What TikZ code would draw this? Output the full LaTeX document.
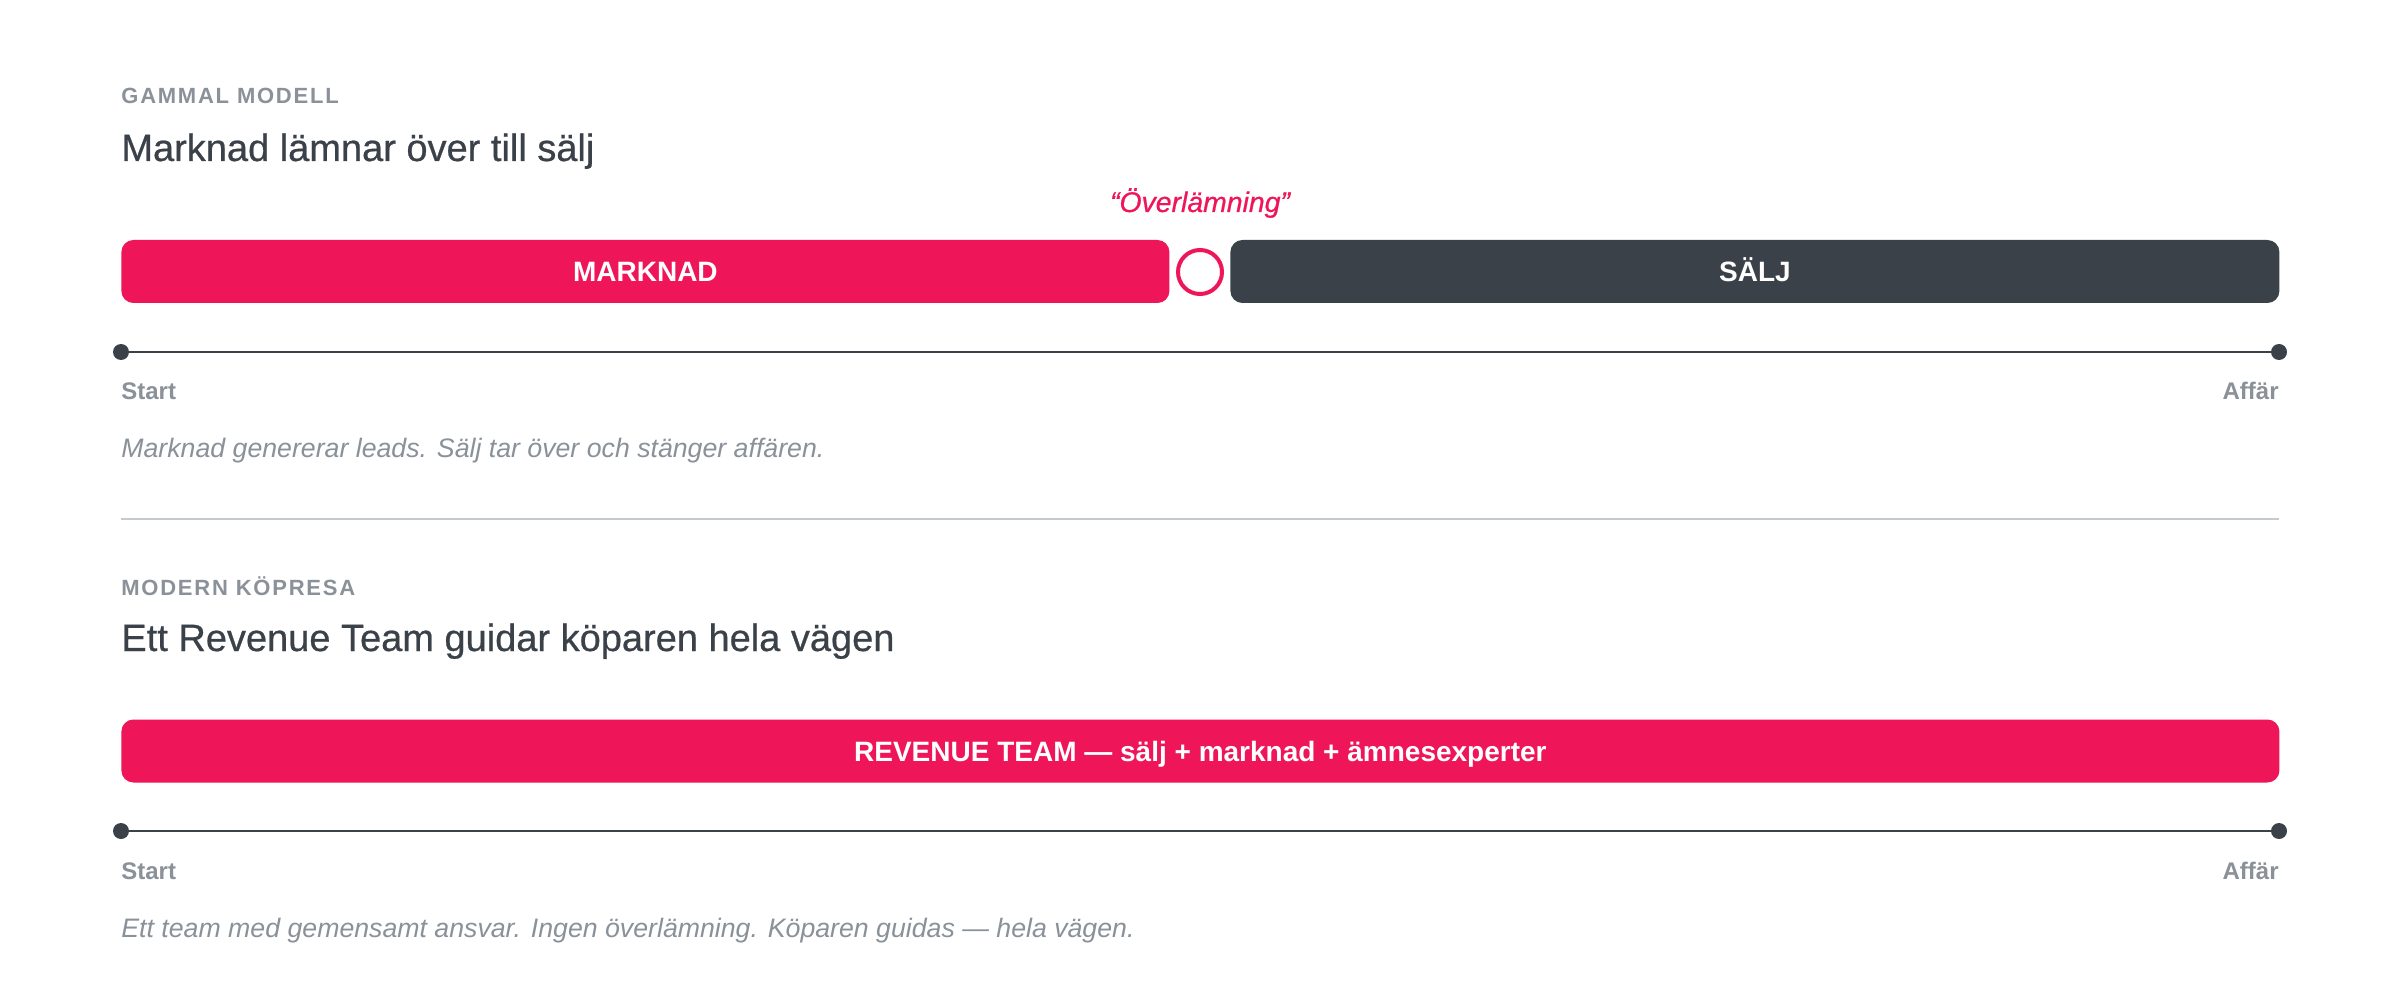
\documentclass[tikz,border=0pt]{standalone}
\usepackage{fontspec}
\setmainfont{Liberation Sans}
\newfontfamily\kickerfont{Liberation Sans}[LetterSpace=8]
\newfontfamily\headfont{Liberation Sans}[FakeBold=0.6]
\usetikzlibrary{positioning}
\definecolor{brandpink}{HTML}{EE1558}
\definecolor{inkdark}{HTML}{3A4149}
\definecolor{mutedgray}{HTML}{8A9199}
\definecolor{rulegray}{HTML}{C5CACF}

\begin{document}
\begin{tikzpicture}[x=0.5pt, y=-0.5pt,
	barstyle/.style={rectangle, rounded corners=6pt, fill=#1, text=white,
		font=\bfseries\fontsize{14}{16}\selectfont, minimum height=31.5pt,
		inner sep=0pt, text height=10pt, text depth=0pt, anchor=west},
	kickerstyle/.style={inner sep=0pt, anchor=base west, text=mutedgray,
		font=\kickerfont\bfseries\fontsize{11}{13}\selectfont},
	titlestyle/.style={inner sep=0pt, anchor=base west, text=inkdark,
		font=\headfont\fontsize{19}{22}\selectfont},
	notestyle/.style={inner sep=0pt, anchor=base west, text=mutedgray,
		font=\itshape\fontsize{13.35}{15}\selectfont},
	endstyle/.style={inner sep=0pt, text=mutedgray,
		font=\bfseries\fontsize{12}{14}\selectfont},
	dotstyle/.style={circle, fill=inkdark, minimum size=8pt, inner sep=0pt},
	timeline/.style={draw=inkdark, line width=1pt}]
	\def \left {121}
	\def \right {2279}

	\useasboundingbox[fill=white] (0,0) rectangle (2400,1000);

	% gammal modell
	\node (kicker1) [kickerstyle] at (\left,104) {GAMMAL MODELL};
	\node (title1) [titlestyle] at (\left,161) {Marknad lämnar över till sälj};
	\node (marknad) [barstyle=brandpink, minimum width=524pt] at (\left,271.5) {MARKNAD};
	\node (salj) [barstyle=inkdark, minimum width=524.5pt] at (1230,271.5) {SÄLJ};
	\node (handover) [circle, draw=brandpink, fill=white, line width=2pt,
		minimum size=22pt, inner sep=0pt] at (1200,272) {};
	\node (handoverlabel) [inner sep=0pt, anchor=base, text=brandpink,
		font=\headfont\itshape\fontsize{14.2}{16}\selectfont] at (1200,212) {“Överlämning”};
	\node (note1) [notestyle] at (\left,458) {Marknad genererar leads. Sälj tar över och stänger affären.};

	\coordinate (sepleft) at (\left,519);
	\coordinate (sepright) at (\right,519);
	\draw[rulegray, line width=0.8pt] (sepleft) -- (sepright);

	% modern köpresa
	\node (kicker2) [kickerstyle] at (\left,595) {MODERN KÖPRESA};
	\node (title2) [titlestyle] at (\left,651) {Ett Revenue Team guidar köparen hela vägen};
	\node (revenue) [barstyle=brandpink, minimum width=1079pt] at (\left,751) {REVENUE TEAM — sälj + marknad + ämnesexperter};
	\node (note2) [notestyle] at (\left,937) {Ett team med gemensamt ansvar. Ingen överlämning. Köparen guidas — hela vägen.};

	\foreach \ty [count=\s] in {352, 831} {
		\node (start\s) [dotstyle] at (\left,\ty) {};
		\node (end\s) [dotstyle] at (\right,\ty) {};
		\draw[timeline] (start\s) -- (end\s);
		\node (startlabel\s) [endstyle, anchor=base west] at (\left,\ty+48) {Start};
		\node (endlabel\s) [endstyle, anchor=base east] at (\right,\ty+48) {Affär};
	};
\end{tikzpicture}
\end{document}
